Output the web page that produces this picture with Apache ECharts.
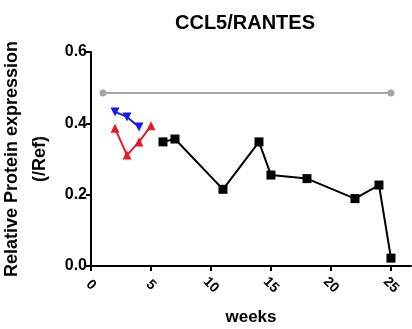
<!DOCTYPE html>
<html><head><meta charset="utf-8">
<script src="https://cdn.jsdelivr.net/npm/echarts@6/dist/echarts.min.js"></script>
<style>html,body{margin:0;padding:0;background:#fff}#c{width:412px;height:329px}</style>
</head><body><div id="c"></div>
<script>
const title = "CCL5/RANTES";
const xName = "weeks";
const yName = "Relative Protein expression\n(/Ref)";
const xTicks = [0, 5, 10, 15, 20, 25];
const yTicks = [0.0, 0.2, 0.4, 0.6];
const refWeeks = [1, 25];
const refValues = [0.485, 0.485];
const blueWeeks = [2, 3, 4];
const blueValues = [0.432, 0.418, 0.39];
const redWeeks = [2, 3, 4, 5];
const redValues = [0.386, 0.311, 0.348, 0.393];
const blackWeeks = [6, 7, 11, 14, 15, 18, 22, 24, 25];
const blackValues = [0.348, 0.356, 0.215, 0.348, 0.255, 0.245, 0.189, 0.227, 0.022];

const pair = (xs, ys) => xs.map((x, i) => [x, ys[i]]);
const font = 'Liberation Sans, Arial, sans-serif';
const chart = echarts.init(document.getElementById('c'), null, {renderer: 'canvas'});
chart.setOption({
  animation: false,
  title: {text: title, left: 240, top: 8, textAlign: 'center',
    textStyle: {fontFamily: font, fontSize: 20, fontWeight: 'bold', color: '#000', letterSpacing: -1.2}},
  grid: {left: 91, right: 1, top: 52, bottom: 63, containLabel: false, outerBoundsMode: 'none'},
  xAxis: {
    type: 'value', min: 0, max: 26.67, interval: 5,
    name: xName, nameLocation: 'middle', nameGap: 43,
    nameTextStyle: {fontFamily: font, fontSize: 17, fontWeight: 'bold', color: '#000', letterSpacing: -1.5},
    axisLine: {show: true, onZero: false, lineStyle: {color: '#000', width: 2}},
    axisTick: {show: true, length: 5, lineStyle: {color: '#000', width: 2}, customValues: xTicks},
    axisLabel: {customValues: xTicks, rotate: -45, align: 'center', verticalAlign: 'middle',
      fontFamily: font, fontSize: 14, fontWeight: 'bold', color: '#000', margin: 19, letterSpacing: -1},
    splitLine: {show: false}
  },
  yAxis: {
    type: 'value', min: 0, max: 0.6, interval: 0.2,
    name: yName, nameLocation: 'middle', nameGap: 33, nameRotate: 90,
    nameTextStyle: {fontFamily: font, fontSize: 18, fontWeight: 'bold', color: '#000', lineHeight: 28},
    axisLine: {show: true, onZero: false, lineStyle: {color: '#000', width: 2}},
    axisTick: {show: true, length: 5, lineStyle: {color: '#000', width: 2}},
    axisLabel: {fontFamily: font, fontSize: 16, fontWeight: 'bold', color: '#000', margin: 4, letterSpacing: -1.2,
      formatter: v => v.toFixed(1)},
    splitLine: {show: false}
  },
  series: [
    {type: 'line', data: pair(refWeeks, refValues), symbol: 'circle', symbolSize: 7,
      lineStyle: {color: '#a6a6a6', width: 2}, itemStyle: {color: '#a6a6a6'}},
    {type: 'line', data: pair(blueWeeks, blueValues), symbol: 'triangle', symbolRotate: 180, symbolSize: 9,
      lineStyle: {color: '#1a1ae6', width: 2}, itemStyle: {color: '#1a1ae6'}},
    {type: 'line', data: pair(redWeeks, redValues), symbol: 'triangle', symbolSize: 9,
      lineStyle: {color: '#e61a2a', width: 2}, itemStyle: {color: '#e61a2a'}},
    {type: 'line', data: pair(blackWeeks, blackValues), symbol: 'rect', symbolSize: 9,
      lineStyle: {color: '#000', width: 2}, itemStyle: {color: '#000'}}
  ]
});
</script></body></html>
